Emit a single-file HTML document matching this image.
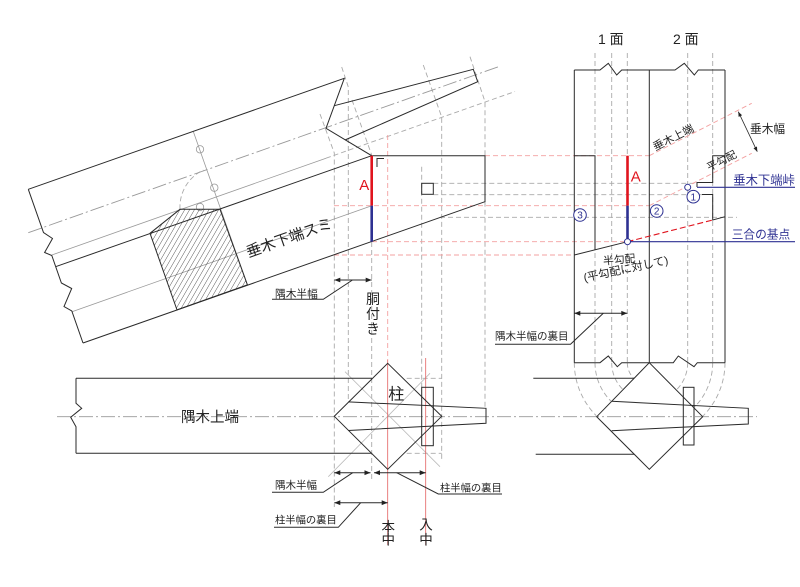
<!DOCTYPE html>
<html><head><meta charset="utf-8"><style>
html,body{margin:0;padding:0;background:#fff;}
svg{display:block;}
text{font-family:"Liberation Sans","Noto Sans CJK JP",sans-serif;fill:#222;}
</style></head><body>
<svg width="800" height="587" viewBox="0 0 800 587" xmlns="http://www.w3.org/2000/svg">
<defs>
<marker id="ar" viewBox="0 0 10 10" refX="10" refY="5" markerWidth="7" markerHeight="6" orient="auto-start-reverse"><path d="M0,1 L10,5 L0,9 z" fill="#222"/></marker>
<pattern id="hp" width="4.2" height="10" patternUnits="userSpaceOnUse" patternTransform="rotate(30)"><line x1="0" y1="0" x2="0" y2="10" stroke="#333" stroke-width="0.8"/></pattern>
</defs>
<rect width="800" height="587" fill="#fff"/>

<!-- gray dashed construction lines -->
<g stroke="#aaa" stroke-width="0.9" stroke-dasharray="5,3" fill="none">
 <polyline points="320,114 334.3,153 334.3,507"/>
 <polyline points="341.7,67 348.3,87 348.3,402"/>
 <polyline points="352,100 371.7,155"/>
 <line x1="371.7" y1="242" x2="371.7" y2="480"/>
 <polyline points="423.3,65 441.7,117 441.7,460"/>
 <polyline points="470,56.7 485,101.7 485,155.7"/>
 <line x1="485" y1="201.7" x2="485" y2="408"/>
 <line x1="421.7" y1="166.7" x2="421.7" y2="387"/>
 <line x1="595" y1="53" x2="595" y2="362.7"/>
 <line x1="611.7" y1="53" x2="611.7" y2="362.7"/>
 <line x1="627.3" y1="53" x2="627.3" y2="362.7"/>
 <line x1="687.7" y1="53" x2="687.7" y2="362.7"/>
 <line x1="712.7" y1="53" x2="712.7" y2="362.7"/>
 <line x1="433.3" y1="183.3" x2="697" y2="183.3"/>
 <line x1="433.3" y1="194.7" x2="703" y2="194.7"/>
 <line x1="440" y1="217.3" x2="737" y2="217.3"/>
 <line x1="326" y1="158.2" x2="515" y2="91.5"/>
 <line x1="406.7" y1="378.3" x2="441.7" y2="378.3"/>
 <line x1="406.7" y1="453.3" x2="441.7" y2="453.3"/>
 <path d="M180,209.3 A41,41 0 0 1 203.3,170"/>
 <path d="M574.3,362.7 A75,75 0 0 0 596.3,415.7"/>
 <path d="M595,362.7 A54.3,54.3 0 0 0 610.9,401.1"/>
 <path d="M611.7,362.7 A37.6,37.6 0 0 0 622.7,389.3"/>
 <path d="M627.3,362.7 A22,22 0 0 0 633.7,378.3"/>
 <path d="M725,362.7 A75.7,75.7 0 0 1 702.8,416.2"/>
 <path d="M712.7,362.7 A63.4,63.4 0 0 1 694.1,407.5"/>
 <path d="M687.7,362.7 A38.4,38.4 0 0 1 676.5,389.8"/>
</g>
<g stroke="#999" stroke-width="0.9" stroke-dasharray="14,3,2,3" fill="none">
 <line x1="28.3" y1="232.7" x2="500" y2="66.2"/>
 <line x1="57" y1="416.7" x2="757" y2="416.7"/>
</g>
<g stroke="#999" stroke-width="0.8" fill="none">
 <line x1="51.8" y1="255" x2="326" y2="158.2"/>
 <line x1="72" y1="311.7" x2="371.7" y2="205.7"/>
 <line x1="193.3" y1="131.5" x2="247.4" y2="284.8"/>
 <circle cx="200" cy="149.3" r="3.7"/>
 <circle cx="214.3" cy="187.7" r="3.7"/>
 <circle cx="200" cy="207" r="3.7"/>
 <line x1="345" y1="371.7" x2="440" y2="466.7" stroke="#bbb"/>
 <line x1="328.3" y1="476.7" x2="430" y2="373.3" stroke="#bbb"/>
</g>
<g stroke="#f3a0a0" stroke-width="0.9" stroke-dasharray="5,3" fill="none">
 <line x1="387.7" y1="135" x2="387.7" y2="360"/>
 <line x1="485" y1="155.7" x2="650" y2="155.7"/>
 <line x1="334" y1="205.7" x2="650" y2="205.7"/>
 <line x1="372" y1="241.7" x2="627" y2="241.7"/>
 <line x1="334" y1="255" x2="574" y2="255"/>
 <line x1="649.3" y1="155.7" x2="751.7" y2="103.3"/>
 <line x1="649.3" y1="205.7" x2="751.7" y2="153.3"/>
</g>
<g stroke="#e46060" stroke-width="0.8" fill="none">
 <line x1="387.7" y1="360" x2="387.7" y2="545"/>
 <line x1="425.7" y1="358" x2="425.7" y2="545"/>
</g>

<polygon points="150,233.3 180,209.3 220,209.3 247.4,284.8 177,309.9" fill="url(#hp)" stroke="#2a2a2a" stroke-width="1"/>

<g stroke="#2a2a2a" stroke-width="1" fill="none" stroke-linejoin="miter">
 <polyline points="28.3,189.3 344.3,78.3 326,128.3 371.7,155.7 485,155.7 485,201.7 83,343"/>
 <polyline points="28.3,189.3 43.5,232.5 52.5,238.5 44.6,252.5 51.8,255.5 61.4,283 71.7,288.5 64,306.5 71.8,311 83,343"/>
 <line x1="55.6" y1="266.7" x2="371.7" y2="155.7"/>
 <polyline points="334.3,105.7 473.3,69.3 477.7,81.7 345,140"/>
 <path d="M377,167 V158.5 H384"/>
 <rect x="421.7" y="183.3" width="11.6" height="11"/>
 <polyline points="574.3,70 600,70 608.3,63.3 616.7,75 621.7,70 649.3,70 675,70 684.3,63.3 694.3,75 698.3,70 725,70"/>
 <polyline points="574.3,362.7 600,362.7 608.3,356 617.3,366.7 621.7,362.7 649.3,362.7 673.3,362.7 678.3,356 694,366.7 697.3,362.7 725,362.7"/>
 <line x1="574.3" y1="70" x2="574.3" y2="362.7"/>
 <line x1="649.3" y1="70" x2="649.3" y2="362.7"/>
 <line x1="725" y1="70" x2="725" y2="362.7"/>
 <polyline points="574.3,155.7 595,155.7 595,249.7"/>
 <line x1="574.3" y1="255" x2="627.5" y2="241.7"/>
 <polyline points="697,187 697,182.5 712.7,182.5 712.7,155.7 725,155.7"/>
 <polyline points="702,194.5 712.7,194.5 712.7,220 725,216.7"/>
 <line x1="76" y1="378.3" x2="372" y2="378.3"/>
 <line x1="76" y1="453.3" x2="371.6" y2="453.3"/>
 <polyline points="76,378.3 76,403.3 81.7,408.3 70.7,417.3 76,426.7 76,453.3"/>
 <polygon points="387.7,363.3 441.7,416.3 387.7,469.3 334.3,416.3"/>
 <polyline points="348.3,401.9 486,408.3 486,423.3 348.3,430.5"/>
 <rect x="421.7" y="387.3" width="11.6" height="58.4"/>
 <line x1="533.3" y1="378.3" x2="633.7" y2="378.3"/>
 <line x1="535.7" y1="454.3" x2="634.3" y2="454.3"/>
 <polygon points="649.3,362.7 702.7,416.7 649.3,469.3 596.7,416.7"/>
 <polyline points="611.7,401.3 748.3,408.3 748.3,424 611.7,430.7"/>
 <rect x="683.3" y="387.3" width="10.7" height="57.7"/>
 <line x1="334.3" y1="280" x2="371.7" y2="280" marker-start="url(#ar)" marker-end="url(#ar)"/>
 <polyline points="352.5,280 323.3,299.3 272,299.3"/>
 <line x1="574.3" y1="313.3" x2="627.3" y2="313.3" marker-start="url(#ar)" marker-end="url(#ar)"/>
 <polyline points="603.3,313.3 570.5,344.3 495,344.3"/>
 <line x1="334.3" y1="472.7" x2="370.5" y2="472.7" marker-start="url(#ar)" marker-end="url(#ar)"/>
 <line x1="374" y1="472.7" x2="425.7" y2="472.7" marker-start="url(#ar)" marker-end="url(#ar)"/>
 <polyline points="352.7,472.7 323.3,492.3 272,492.3"/>
 <polyline points="396.7,472.7 438.3,494 502,494"/>
 <line x1="334.3" y1="502.7" x2="387.7" y2="502.7" marker-start="url(#ar)" marker-end="url(#ar)"/>
 <polyline points="360.7,502.7 338.3,527.3 274,527.3"/>
 <line x1="738.3" y1="111.7" x2="757.3" y2="151.7" stroke-width="0.8" marker-start="url(#ar)" marker-end="url(#ar)"/>
</g>

<line x1="627.5" y1="241.7" x2="712.7" y2="220" stroke="#e0141e" stroke-width="1.1" stroke-dasharray="6,3"/>
<g stroke="#2e3192" stroke-width="1.1">
 <line x1="697" y1="187.3" x2="795" y2="187.3"/>
 <line x1="627.5" y1="241.7" x2="795" y2="241.7"/>
</g>
<g stroke-width="2.6">
 <line x1="371.7" y1="155.7" x2="371.7" y2="205.7" stroke="#e0141e"/>
 <line x1="371.7" y1="205.7" x2="371.7" y2="241.7" stroke="#2e3192"/>
 <line x1="627.5" y1="155.7" x2="627.5" y2="205.7" stroke="#e0141e"/>
 <line x1="627.5" y1="205.7" x2="627.5" y2="241.7" stroke="#2e3192"/>
</g>
<g stroke="#2e3192" stroke-width="1" fill="#fff">
 <circle cx="627.5" cy="241.7" r="3"/>
 <circle cx="687.7" cy="187.3" r="3"/>
 <circle cx="693.3" cy="196.7" r="6.3"/>
 <circle cx="656.7" cy="211" r="6.3"/>
 <circle cx="580" cy="215" r="6.3"/>
</g>
<g font-size="10" text-anchor="middle">
 <text x="693.3" y="200.3" style="fill:#2e3192">1</text>
 <text x="656.7" y="214.6" style="fill:#2e3192">2</text>
 <text x="580" y="218.6" style="fill:#2e3192">3</text>
</g>

<text x="359.3" y="190" font-size="15" style="fill:#e0141e">A</text>
<text x="630.7" y="181.7" font-size="15" style="fill:#e0141e">A</text>
<text x="598" y="44" font-size="14">1 面</text>
<text x="673" y="44" font-size="14">2 面</text>
<text transform="translate(289.2,237.5) rotate(-19.4)" x="0" y="5.3" font-size="15" text-anchor="middle">垂木下端スミ</text>
<text x="275" y="297.5" font-size="10.7">隅木半幅</text>
<g font-size="14" text-anchor="middle">
 <text x="373" y="304">胴</text>
 <text x="373" y="319">付</text>
 <text x="373" y="334">き</text>
</g>
<text x="495" y="339.5" font-size="10.5">隅木半幅の裏目</text>
<text x="750" y="133" font-size="11.7">垂木幅</text>
<text x="733.3" y="184.5" font-size="12.3" style="fill:#2e3192">垂木下端峠</text>
<text x="731.7" y="238.5" font-size="11.7" style="fill:#2e3192">三合の基点</text>
<text transform="translate(673.3,137.5) rotate(-27)" x="0" y="3.8" font-size="11" text-anchor="middle">垂木上端</text>
<text transform="translate(721.7,160.8) rotate(-27)" x="0" y="3.6" font-size="10.5" text-anchor="middle">平勾配</text>
<text transform="translate(619.2,259.5) rotate(-5)" x="0" y="3.8" font-size="10.8" text-anchor="middle">半勾配</text>
<text transform="translate(625.8,268.8) rotate(-12)" x="0" y="4" font-size="11.3" text-anchor="middle">(平勾配に対して)</text>
<text x="181" y="422" font-size="14.5">隅木上端</text>
<text x="388.3" y="399.5" font-size="16">柱</text>
<text x="275" y="488.5" font-size="10.5">隅木半幅</text>
<text x="440" y="491.5" font-size="10.3">柱半幅の裏目</text>
<text x="275" y="523.5" font-size="10.3">柱半幅の裏目</text>
<g font-size="13.5" text-anchor="middle">
 <text x="388.3" y="531.5">本</text>
 <text x="388.3" y="544.5">中</text>
 <text x="426" y="529.5">入</text>
 <text x="426" y="544.5">中</text>
</g>
</svg>
</body></html>
